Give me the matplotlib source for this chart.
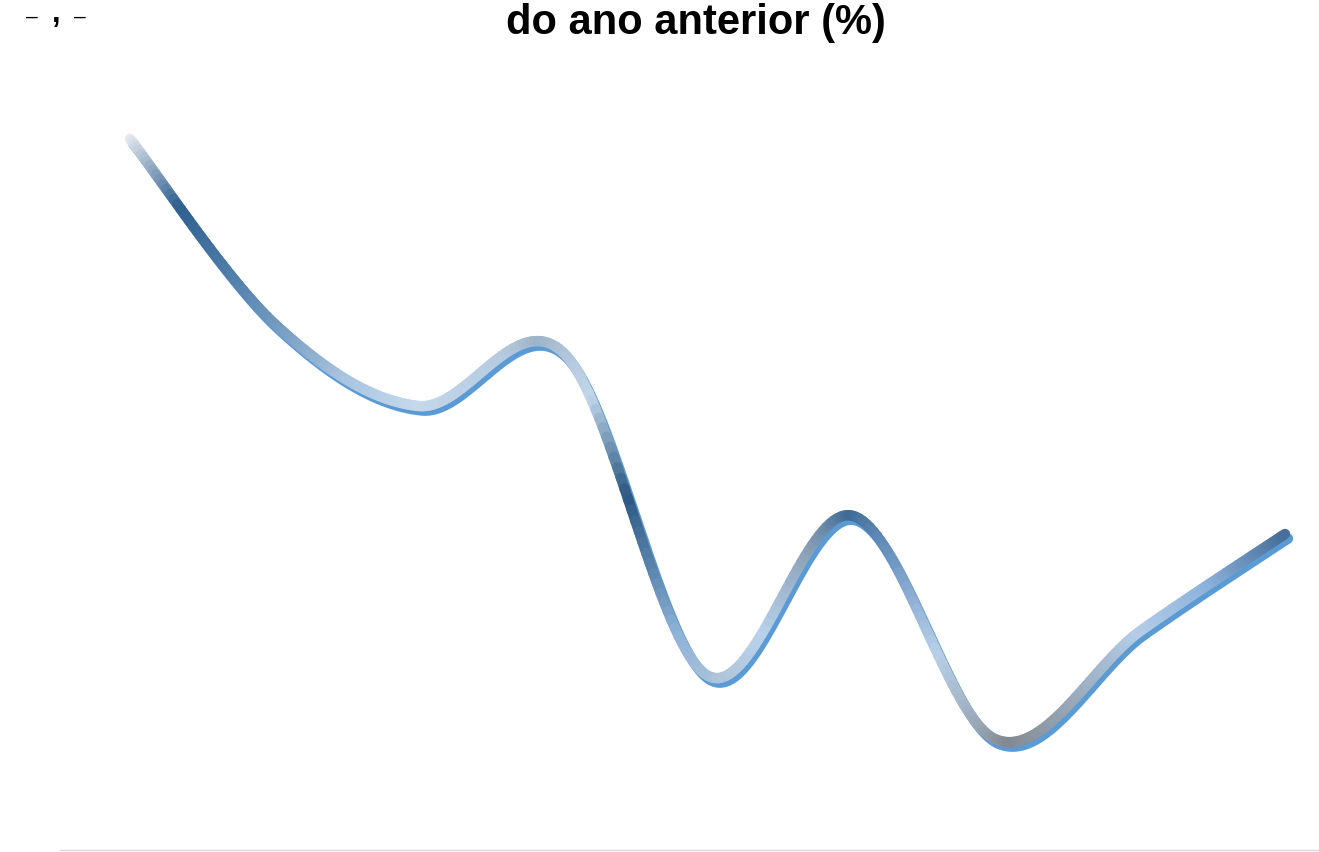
import numpy as np
import matplotlib
matplotlib.use('Agg')
import matplotlib.pyplot as plt
import matplotlib.transforms as mtransforms
from matplotlib.collections import LineCollection
from matplotlib.colors import to_rgb

plt.rcParams['font.family'] = ['Liberation Sans', 'DejaVu Sans']

# dados (variação em relação ao ano anterior, %)
periodos = list(range(9))
valores = [8.89, 6.58, 5.55, 6.22, 2.18, 4.18, 1.38, 2.74, 3.95]

titulo = 'do ano anterior (%)'
rotulo_canto = ['–', ',', '–']

# cores do "tubo" ao longo do eixo x (efeito 3D)
cor_x = [0, 0.35, 0.8, 1.5, 2.0, 2.6, 2.85, 3.2, 3.45, 3.8, 4.1, 4.4,
         4.7, 5.0, 5.3, 5.6, 6.1, 6.5, 7.0, 7.5, 8.0]
cor_hex = ['#e8ebef', '#2f5f8f', '#5a85b0', '#a9c4e0', '#c5d8ec', '#b5cbe0',
           '#9eb3c8', '#c2d6ea', '#2a5883', '#8fb3d9', '#b0c4d8', '#b8d0ea',
           '#8ca2b8', '#3d6a96', '#6f97c4', '#b8d0e8', '#838890', '#95a5b5',
           '#b5cde8', '#8ab0da', '#466f9a']


def suavizar(x, y, n=40):
    # linha suavizada tipo Excel (Catmull-Rom / Bezier)
    p = np.column_stack([x, y]).astype(float)
    p = np.vstack([p[0], p, p[-1]])
    pts = []
    t = np.linspace(0, 1, n, endpoint=False)[:, None]
    for i in range(1, len(p) - 2):
        p0, p1, p2, p3 = p[i - 1], p[i], p[i + 1], p[i + 2]
        c1 = p1 + (p2 - p0) / 6
        c2 = p2 - (p3 - p1) / 6
        pts.append((1 - t) ** 3 * p1 + 3 * (1 - t) ** 2 * t * c1
                   + 3 * (1 - t) * t ** 2 * c2 + t ** 3 * p2)
    pts.append(p[-2][None, :])
    return np.vstack(pts)


W, H = 1319, 853
fig = plt.figure(figsize=(W / 100, H / 100), dpi=100)
ax = fig.add_axes([60 / W, 2 / H, 1 - 60 / W, (851 - 100) / H])

curva = suavizar(periodos, valores)

# sombra azul deslocada
sombra = mtransforms.offset_copy(ax.transData, fig=fig, x=3, y=-4.5, units='dots')
ax.plot(curva[:, 0], curva[:, 1], color='#5b9bd5', lw=7.5,
        solid_capstyle='round', transform=sombra)

# linha principal com gradiente
segs = np.stack([curva[:-1], curva[1:]], axis=1)
xm = (curva[:-1, 0] + curva[1:, 0]) / 2
rgb = np.array([to_rgb(c) for c in cor_hex])
cores = np.column_stack([np.interp(xm, cor_x, rgb[:, k]) for k in range(3)])
lc = LineCollection(segs, colors=cores, linewidths=7.5, capstyle='round')
ax.add_collection(lc)

ax.set_xlim(-70 / 144.375, 8 + (W - 1285) / 144.375)
ax.set_ylim(0, (851 - 100) / 80)
for s in ['top', 'left', 'right']:
    ax.spines[s].set_visible(False)
ax.spines['bottom'].set_color('#d9d9d9')
ax.spines['bottom'].set_linewidth(1)
ax.set_xticks([])
ax.set_yticks([])
ax.patch.set_alpha(0)

fig.text(695.5 / W, 1 - 34 / H, titulo, ha='center', va='baseline',
         fontsize=30, fontweight='bold')
# restos de texto no canto superior esquerdo
for txt, px, py, fs, peso in zip(rotulo_canto, [32, 56, 80], [23, 22, 23],
                                 [15, 22, 15], ['normal', 'bold', 'normal']):
    fig.text(px / W, 1 - py / H, txt, ha='center', va='baseline',
             fontsize=fs, fontweight=peso)

fig.savefig('out.png', dpi=100)
